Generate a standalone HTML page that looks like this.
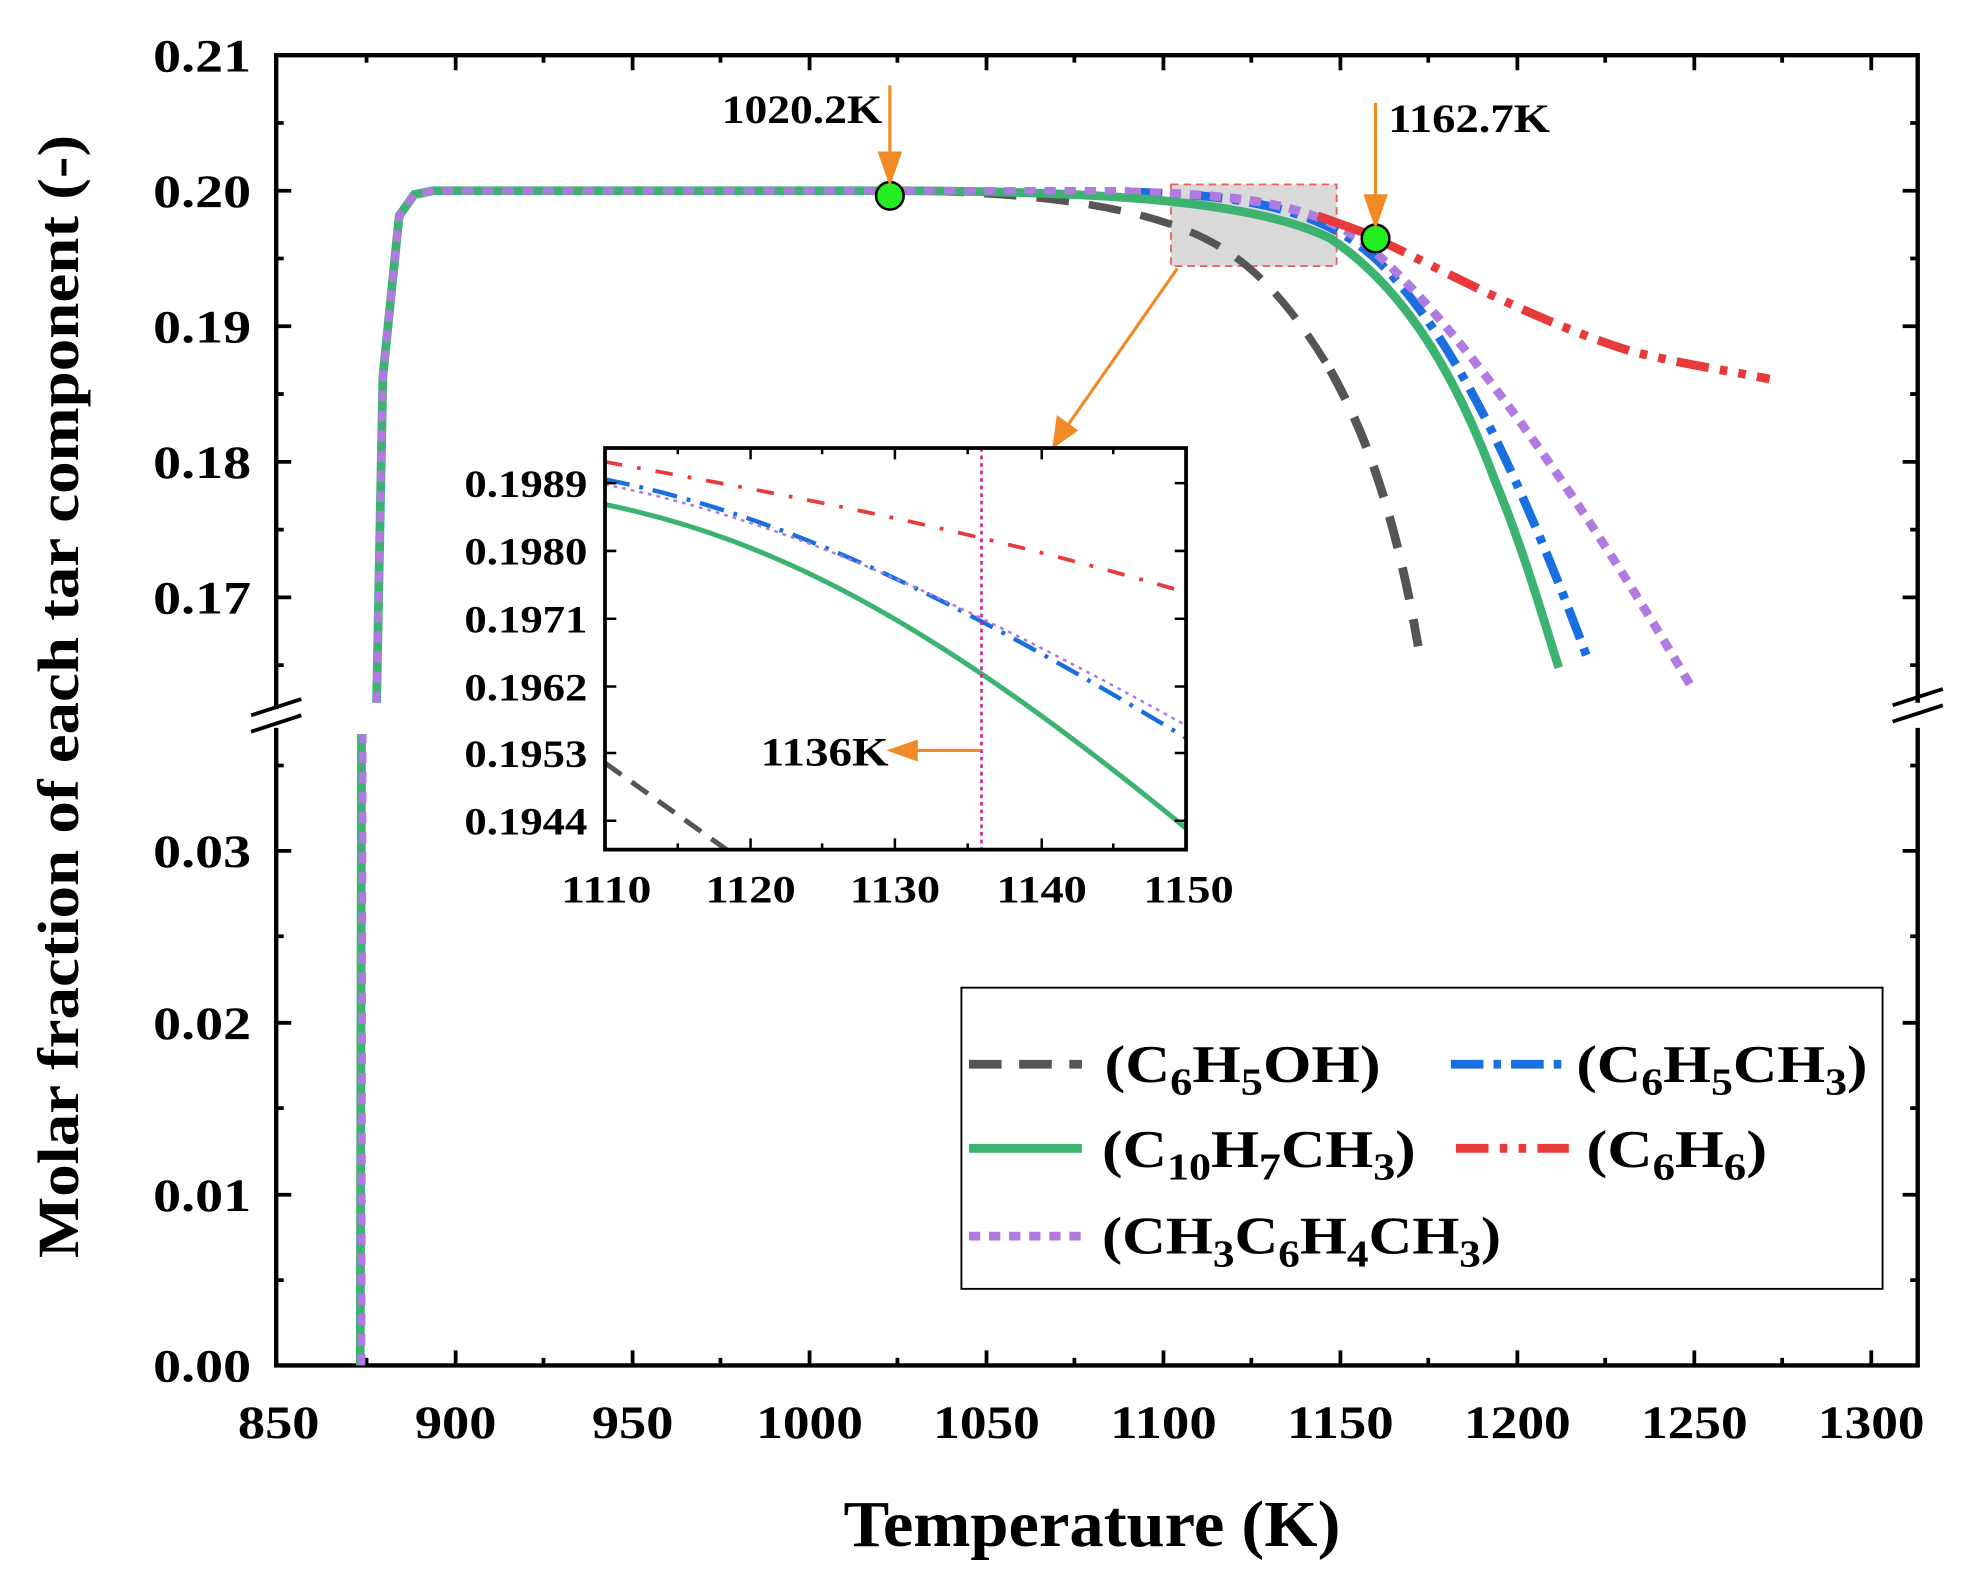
<!DOCTYPE html>
<html><head><meta charset="utf-8"><style>html,body{margin:0;padding:0;background:#fff}svg{display:block}text{font-family:"Liberation Serif",serif;font-weight:bold}</style></head><body>
<svg width="1968" height="1575" viewBox="0 0 1568 1255" xmlns="http://www.w3.org/2000/svg">
<rect width="1568" height="1255" fill="#fff"/>
<path d="M220,565 V44 H1528 V560 M1528,580 V1088 H220 V580" fill="none" stroke="#000" stroke-width="3.5"/>
<g stroke="#000" stroke-width="3"><line x1="200" y1="570" x2="240" y2="557"/><line x1="200" y1="583" x2="240" y2="570"/><line x1="1508" y1="562" x2="1548" y2="549"/><line x1="1508" y1="575" x2="1548" y2="562"/></g>
<path stroke="#000" stroke-width="3" fill="none" d="
M363,1088v-12M504,1088v-12M645,1088v-12M786,1088v-12M927,1088v-12M1068,1088v-12M1209,1088v-12M1350,1088v-12M1491,1088v-12
M292,1088v-6M433,1088v-6M574,1088v-6M715,1088v-6M856,1088v-6M997,1088v-6M1138,1088v-6M1279,1088v-6M1420,1088v-6
M363,44v12M504,44v12M645,44v12M786,44v12M927,44v12M1068,44v12M1209,44v12M1350,44v12M1491,44v12
M292,44v6M433,44v6M574,44v6M715,44v6M856,44v6M997,44v6M1138,44v6M1279,44v6M1420,44v6
M220,152h12M220,260h12M220,368h12M220,476h12M220,678h12M220,815h12M220,952h12
M220,98h6M220,206h6M220,314h6M220,422h6M220,530h6M220,610h6M220,746h6M220,883h6M220,1020h6
M1528,152h-12M1528,260h-12M1528,368h-12M1528,476h-12M1528,678h-12M1528,815h-12M1528,952h-12
M1528,98h-6M1528,206h-6M1528,314h-6M1528,422h-6M1528,530h-6M1528,610h-6M1528,746h-6M1528,883h-6M1528,1020h-6"/>
<g font-size="37" text-anchor="middle" lengthAdjust="spacingAndGlyphs">
<text x="222" y="1146" textLength="65" lengthAdjust="spacingAndGlyphs">850</text><text x="363" y="1146" textLength="65" lengthAdjust="spacingAndGlyphs">900</text><text x="504" y="1146" textLength="65" lengthAdjust="spacingAndGlyphs">950</text><text x="645" y="1146" textLength="85" lengthAdjust="spacingAndGlyphs">1000</text><text x="786" y="1146" textLength="85" lengthAdjust="spacingAndGlyphs">1050</text><text x="927" y="1146" textLength="85" lengthAdjust="spacingAndGlyphs">1100</text><text x="1068" y="1146" textLength="85" lengthAdjust="spacingAndGlyphs">1150</text><text x="1209" y="1146" textLength="85" lengthAdjust="spacingAndGlyphs">1200</text><text x="1350" y="1146" textLength="85" lengthAdjust="spacingAndGlyphs">1250</text><text x="1491" y="1146" textLength="85" lengthAdjust="spacingAndGlyphs">1300</text>
</g>
<g font-size="37" text-anchor="end">
<text x="200" y="57" textLength="78" lengthAdjust="spacingAndGlyphs">0.21</text><text x="200" y="165" textLength="78" lengthAdjust="spacingAndGlyphs">0.20</text><text x="200" y="273" textLength="78" lengthAdjust="spacingAndGlyphs">0.19</text><text x="200" y="381" textLength="78" lengthAdjust="spacingAndGlyphs">0.18</text><text x="200" y="489" textLength="78" lengthAdjust="spacingAndGlyphs">0.17</text>
<text x="200" y="691" textLength="78" lengthAdjust="spacingAndGlyphs">0.03</text><text x="200" y="828" textLength="78" lengthAdjust="spacingAndGlyphs">0.02</text><text x="200" y="965" textLength="78" lengthAdjust="spacingAndGlyphs">0.01</text><text x="200" y="1101" textLength="78" lengthAdjust="spacingAndGlyphs">0.00</text>
</g>
<text x="870" y="1232" font-size="52" text-anchor="middle" textLength="396" lengthAdjust="spacingAndGlyphs">Temperature (K)</text>
<text transform="translate(62,555) rotate(-90)" font-size="46" text-anchor="middle" textLength="895" lengthAdjust="spacingAndGlyphs">Molar fraction of each tar component (-)</text>
<rect x="933" y="147" width="132" height="65" fill="#d9d9d9" stroke="#f06060" stroke-width="1.5" stroke-dasharray="6,4"/>
<path d="M287,1088 L288,585 M300,560 L305,300 L318,172 L330,155 L345,152 L700,152" fill="none" stroke="#3cb371" stroke-width="7"/>
<path d="M700,152 C800,152 900,160 960,190 C1000,210 1030,245 1060,295" fill="none" stroke="#555" stroke-width="6" stroke-dasharray="26,16"/>
<path d="M1060,295 C1085,340 1110,400 1130,515" fill="none" stroke="#555" stroke-width="7" stroke-dasharray="26,16"/>
<path d="M900,153 C1000,155 1060,170 1100,210 C1150,260 1200,350 1265,525" fill="none" stroke="#1a6fe0" stroke-width="7" stroke-dasharray="26,8,6,8"/>
<path d="M900,153 C1000,155 1060,165 1100,205 C1160,260 1250,380 1348,548" fill="none" stroke="#b07ae0" stroke-width="7" stroke-dasharray="9,7"/>
<path d="M1096,190 C1150,215 1220,255 1300,280 C1340,290 1380,296 1410,302" fill="none" stroke="#e83a3a" stroke-width="7" stroke-dasharray="26,9,6,9,6,9"/>
<path d="M700,152 C880,152 1000,160 1060,190 C1120,230 1160,300 1190,380 C1215,440 1230,495 1242,532" fill="none" stroke="#3cb371" stroke-width="7"/>
<path d="M288,1088 L289,585 M300,560 L305,300 L318,172 L330,155 L345,152 L900,152" fill="none" stroke="#b07ae0" stroke-width="6" stroke-dasharray="9,7"/>
<path d="M1050,172 L1100,190" stroke="#e83a3a" stroke-width="7"/>
<circle cx="709" cy="156" r="11" fill="#22ee22" stroke="#000" stroke-width="2"/>
<circle cx="1096" cy="190" r="11" fill="#22ee22" stroke="#000" stroke-width="2"/>
<g stroke="#f08a24" stroke-width="2.5" fill="#f08a24">
<line x1="709" y1="68" x2="709" y2="130"/><path d="M701,122 L709,145 L717,122 Z"/>
<line x1="1096" y1="82" x2="1096" y2="164"/><path d="M1088,156 L1096,179 L1104,156 Z"/>
<line x1="938" y1="214" x2="850" y2="340"/><path d="M840,355 L843,333 L857,343 Z"/>
</g>
<text x="703" y="98" font-size="32" text-anchor="end" textLength="128" lengthAdjust="spacingAndGlyphs">1020.2K</text>
<text x="1106" y="105" font-size="32" textLength="129" lengthAdjust="spacingAndGlyphs">1162.7K</text>
<rect x="482" y="357" width="463" height="320" fill="#fff"/>
<clipPath id="c"><rect x="482" y="357" width="463" height="320"/></clipPath>
<g clip-path="url(#c)" fill="none">
<path d="M482,368 C600,390 750,415 945,472" stroke="#e83a3a" stroke-width="3" stroke-dasharray="14,12,3,12"/>
<path d="M482,382 C620,410 750,470 945,588" stroke="#1a6fe0" stroke-width="3.5" stroke-dasharray="20,8,3,8"/>
<path d="M482,386 C620,414 750,470 945,578" stroke="#b07ae0" stroke-width="2" stroke-dasharray="3,4"/>
<path d="M482,402 C620,430 750,500 945,660" stroke="#3cb371" stroke-width="4"/>
<path d="M482,608 L590,685" stroke="#555" stroke-width="4" stroke-dasharray="16,10"/>
<line x1="782" y1="357" x2="782" y2="677" stroke="#e0158a" stroke-width="2" stroke-dasharray="3,3"/>
</g>
<rect x="482" y="357" width="463" height="320" fill="none" stroke="#000" stroke-width="3"/>
<path stroke="#000" stroke-width="2" d="M598,677v-9M713,677v-9M830,677v-9M540,677v-5M655,677v-5M771,677v-5M887,677v-5M598,357v9M713,357v9M830,357v9M540,357v5M655,357v5M771,357v5M887,357v5
M482,385h9M482,439h9M482,493h9M482,547h9M482,600h9M482,654h9M945,385h-9M945,439h-9M945,493h-9M945,547h-9M945,600h-9M945,654h-9"/>
<g stroke="#f08a24" stroke-width="2.5" fill="#f08a24"><line x1="781" y1="598" x2="725" y2="598"/><path d="M710,598 L730,591 L730,605 Z"/></g>
<g font-size="31" text-anchor="middle"><text x="483" y="719" textLength="72" lengthAdjust="spacingAndGlyphs">1110</text><text x="598" y="719" textLength="72" lengthAdjust="spacingAndGlyphs">1120</text><text x="713" y="719" textLength="72" lengthAdjust="spacingAndGlyphs">1130</text><text x="830" y="719" textLength="72" lengthAdjust="spacingAndGlyphs">1140</text><text x="947" y="719" textLength="72" lengthAdjust="spacingAndGlyphs">1150</text></g>
<g font-size="31" text-anchor="end"><text x="468" y="396" textLength="98" lengthAdjust="spacingAndGlyphs">0.1989</text><text x="468" y="450" textLength="98" lengthAdjust="spacingAndGlyphs">0.1980</text><text x="468" y="504" textLength="98" lengthAdjust="spacingAndGlyphs">0.1971</text><text x="468" y="558" textLength="98" lengthAdjust="spacingAndGlyphs">0.1962</text><text x="468" y="611" textLength="98" lengthAdjust="spacingAndGlyphs">0.1953</text><text x="468" y="665" textLength="98" lengthAdjust="spacingAndGlyphs">0.1944</text></g>
<text x="708" y="610" font-size="32" text-anchor="end" textLength="102" lengthAdjust="spacingAndGlyphs">1136K</text>
<rect x="766" y="787" width="734" height="240" fill="#fff" stroke="#000" stroke-width="1.5"/>
<line x1="772" y1="848" x2="862" y2="848" stroke="#555" stroke-width="7" stroke-dasharray="26,14"/>
<line x1="772" y1="915" x2="862" y2="915" stroke="#3cb371" stroke-width="7"/>
<line x1="772" y1="985" x2="862" y2="985" stroke="#b07ae0" stroke-width="7" stroke-dasharray="9,7"/>
<line x1="1156" y1="848" x2="1246" y2="848" stroke="#1a6fe0" stroke-width="7" stroke-dasharray="26,8,6,8"/>
<line x1="1160" y1="915" x2="1250" y2="915" stroke="#e83a3a" stroke-width="7" stroke-dasharray="26,9,6,9,6,9"/>
<g font-size="42">
<text x="880" y="862" textLength="220" lengthAdjust="spacingAndGlyphs">(C<tspan font-size="30" dy="10">6</tspan><tspan dy="-10">H</tspan><tspan font-size="30" dy="10">5</tspan><tspan dy="-10">OH)</tspan></text>
<text x="878" y="930" textLength="250" lengthAdjust="spacingAndGlyphs">(C<tspan font-size="30" dy="10">10</tspan><tspan dy="-10">H</tspan><tspan font-size="30" dy="10">7</tspan><tspan dy="-10">CH</tspan><tspan font-size="30" dy="10">3</tspan><tspan dy="-10">)</tspan></text>
<text x="878" y="999" textLength="318" lengthAdjust="spacingAndGlyphs">(CH<tspan font-size="30" dy="10">3</tspan><tspan dy="-10">C</tspan><tspan font-size="30" dy="10">6</tspan><tspan dy="-10">H</tspan><tspan font-size="30" dy="10">4</tspan><tspan dy="-10">CH</tspan><tspan font-size="30" dy="10">3</tspan><tspan dy="-10">)</tspan></text>
<text x="1256" y="862" textLength="232" lengthAdjust="spacingAndGlyphs">(C<tspan font-size="30" dy="10">6</tspan><tspan dy="-10">H</tspan><tspan font-size="30" dy="10">5</tspan><tspan dy="-10">CH</tspan><tspan font-size="30" dy="10">3</tspan><tspan dy="-10">)</tspan></text>
<text x="1264" y="930" textLength="144" lengthAdjust="spacingAndGlyphs">(C<tspan font-size="30" dy="10">6</tspan><tspan dy="-10">H</tspan><tspan font-size="30" dy="10">6</tspan><tspan dy="-10">)</tspan></text>
</g>
</svg>
</body></html>
